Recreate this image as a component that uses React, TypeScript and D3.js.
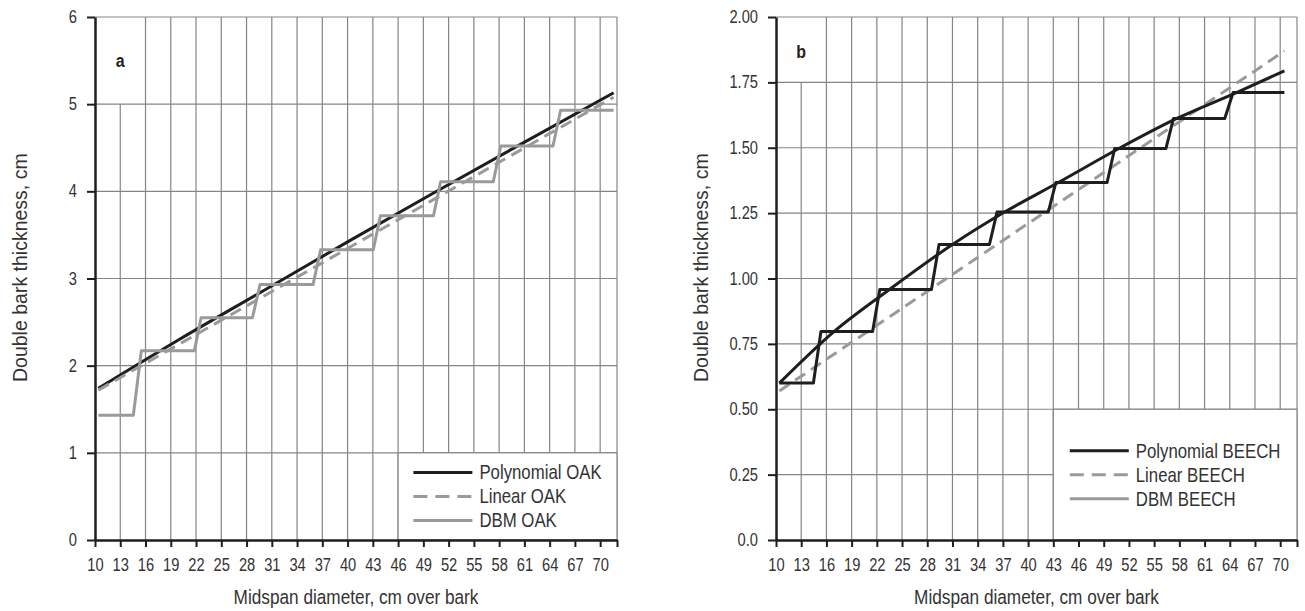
import React, { useEffect, useRef } from 'react';
import * as d3 from 'd3';

// tick labels
const xTicks = [10, 13, 16, 19, 22, 25, 28, 31, 34, 37, 40, 43, 46, 49, 52, 55, 58, 61, 64, 67, 70];
const oakYTicks = [0, 1, 2, 3, 4, 5, 6];
const oakYLabels = ['0', '1', '2', '3', '4', '5', '6'];
const beechYTicks = [0, 0.25, 0.5, 0.75, 1, 1.25, 1.5, 1.75, 2];
const beechYLabels = ['0.0', '0.25', '0.50', '0.75', '1.00', '1.25', '1.50', '1.75', '2.00'];

// panel a: OAK  [diameter, double bark thickness]
const oakPolynomial = [[10.4, 1.74], [20, 2.3], [30, 2.86], [40, 3.42], [50, 3.97], [60, 4.51], [71.6, 5.13]];
const oakLinear = [[10.4, 1.72], [71.6, 5.08]];
const oakDbm = [
  [10.4, 1.43], [14.55, 1.43], [15.5, 2.17], [21.8, 2.17], [22.6, 2.55], [28.7, 2.55],
  [29.6, 2.93], [35.9, 2.93], [36.8, 3.33], [43.05, 3.33], [43.9, 3.72], [50.2, 3.72],
  [51.05, 4.11], [57.3, 4.11], [58.2, 4.52], [64.4, 4.52], [65.3, 4.93], [71.6, 4.93]
];

// panel b: BEECH
const beechPolynomial = [
  [10.4, 0.6], [16.9, 0.797], [23.5, 0.958], [31, 1.13], [37.2, 1.254],
  [43.6, 1.367], [50.8, 1.497], [57.7, 1.612], [64.8, 1.711], [70.5, 1.794]
];
const beechLinear = [[10.4, 0.57], [70.5, 1.87]];
const beechDbm = [
  [10.4, 0.6], [14.45, 0.6], [15.35, 0.797], [21.5, 0.797], [22.35, 0.958], [28.5, 0.958],
  [29.4, 1.13], [35.4, 1.13], [36.3, 1.254], [42.4, 1.254], [43.3, 1.367], [49.4, 1.367],
  [50.3, 1.497], [56.4, 1.497], [57.3, 1.612], [63.4, 1.612], [64.4, 1.711], [70.5, 1.711]
];

const FONT = '"Liberation Sans", Arial, sans-serif';
const K = 0.84; // the original type is a narrow grotesque
const DARK = '#1e1e1e';
const GREY = '#9a9a9a';
const GRID = '#858585';
const INK = '#333';

// squeeze an already positioned text horizontally around its own x
const narrow = sel => sel.each(function () {
  const t = d3.select(this);
  const x0 = +(t.attr('x') || 0);
  t.attr('x', x0 / K).attr('transform', `scale(${K},1)`);
});

const drawPanel = (svg, p) => {
  const x = d3.scaleLinear().domain([10, 72]).range([p.left, p.right]);
  const y = d3.scaleLinear().domain([0, p.yMax]).range([p.bottom, p.top]);
  const g = svg.append('g');

  // grid
  g.selectAll('.hgrid')
    .data(p.yTicks.filter(v => v > 0))
    .join('line')
    .attr('x1', x(10)).attr('x2', x(72))
    .attr('y1', d => y(d)).attr('y2', d => y(d))
    .attr('stroke', GRID).attr('stroke-width', 1.2);

  g.selectAll('.vgrid')
    .data([...xTicks.slice(1), 72])
    .join('line')
    .attr('x1', d => x(d)).attr('x2', d => x(d))
    .attr('y1', y(0))
    .attr('y2', d => (d === 13 ? y(p.labelCut) : y(p.yMax)))
    .attr('stroke', GRID).attr('stroke-width', 1.2);

  // legend box
  const bx0 = x(p.legendX), bx1 = x(72), by0 = y(p.legendY), by1 = y(0);
  g.append('rect')
    .attr('x', bx0).attr('y', by0)
    .attr('width', bx1 - bx0).attr('height', by1 - by0)
    .attr('fill', '#fff').attr('stroke', GRID).attr('stroke-width', 1.2);

  // lines
  p.series.forEach(s => {
    const line = d3.line()
      .x(d => x(d[0]))
      .y(d => y(d[1]))
      .curve(s.smooth ? d3.curveMonotoneX : d3.curveLinear);
    g.append('path')
      .datum(s.data)
      .attr('d', line)
      .attr('fill', 'none')
      .attr('stroke', s.color)
      .attr('stroke-width', 3)
      .attr('stroke-linejoin', 'round')
      .attr('stroke-dasharray', s.dash || null);
  });

  // axes
  const yAxis = d3.axisLeft(y)
    .tickValues(p.yTicks)
    .tickSize(8).tickSizeOuter(0).tickPadding(10)
    .tickFormat((d, i) => p.yLabels[i]);
  const ya = g.append('g').attr('transform', `translate(${p.left},0)`).call(yAxis);

  const xAxis = d3.axisBottom(x)
    .tickValues([...xTicks, 72])
    .tickSize(7).tickSizeOuter(0).tickPadding(12)
    .tickFormat(d => (d === 72 ? '' : d));
  const xa = g.append('g').attr('transform', `translate(0,${p.bottom})`).call(xAxis);

  [ya, xa].forEach(a => {
    a.select('.domain').attr('stroke', DARK).attr('stroke-width', 2.5);
    a.selectAll('.tick line').attr('stroke', DARK).attr('stroke-width', 2);
    a.selectAll('.tick text')
      .attr('fill', INK)
      .style('font-family', FONT)
      .style('font-size', '17.5px')
      .call(narrow);
  });

  // titles
  g.append('g')
    .attr('transform', `translate(${(p.left + p.right) / 2},${p.bottom + 64})`)
    .append('text')
    .attr('text-anchor', 'middle')
    .attr('fill', INK)
    .style('font-family', FONT).style('font-size', '20.5px')
    .text('Midspan diameter, cm over bark')
    .call(narrow);

  g.append('text')
    .attr('transform', `translate(${p.left - 68},${p.bottom - 158}) rotate(-90)`)
    .attr('text-anchor', 'start')
    .attr('fill', INK)
    .style('font-family', FONT).style('font-size', '19.5px')
    .text('Double bark thickness, cm');

  g.append('g')
    .attr('transform', `translate(${x(13)},${p.top + p.labelY})`)
    .append('text')
    .attr('text-anchor', 'middle')
    .attr('fill', '#222')
    .style('font-family', FONT).style('font-size', '19px').style('font-weight', 'bold')
    .text(p.label)
    .call(narrow);

  // legend entries
  const rowsMid = (by0 + by1) / 2;
  const lg = g.append('g');
  const texts = p.legend.map((s, i) =>
    lg.append('text')
      .attr('y', rowsMid + (i - 1) * 24)
      .attr('dy', '0.35em')
      .attr('fill', INK)
      .style('font-family', FONT).style('font-size', '20px')
      .text(s.name)
  );
  const maxW = d3.max(texts, t => t.node().getComputedTextLength()) * K;
  const startX = (bx0 + bx1) / 2 - (59 + 7 + maxW) / 2;
  p.legend.forEach((s, i) => {
    const ry = rowsMid + (i - 1) * 24;
    lg.append('line')
      .attr('x1', startX).attr('x2', startX + 59)
      .attr('y1', ry).attr('y2', ry)
      .attr('stroke', s.color).attr('stroke-width', 3)
      .attr('stroke-dasharray', s.dash || null);
    texts[i].attr('x', startX + 66).call(narrow);
  });
};

const App = () => {
  const svgRef = useRef(null);

  useEffect(() => {
    if (!svgRef.current) return;
    const svg = d3.select(svgRef.current);
    svg.selectAll('*').remove();

    const panels = [
      {
        left: 95, right: 617, top: 17, bottom: 540, yMax: 6,
        yTicks: oakYTicks, yLabels: oakYLabels,
        label: 'a', labelY: 50, labelCut: 5, legendX: 46, legendY: 1,
        series: [
          { data: oakPolynomial, color: DARK, smooth: true },
          { data: oakDbm, color: GREY },
          { data: oakLinear, color: GREY, dash: '12,7' }
        ],
        legend: [
          { name: 'Polynomial OAK', color: DARK },
          { name: 'Linear OAK', color: GREY, dash: '14,8' },
          { name: 'DBM OAK', color: GREY }
        ]
      },
      {
        left: 776, right: 1297, top: 17, bottom: 540, yMax: 2,
        yTicks: beechYTicks, yLabels: beechYLabels,
        label: 'b', labelY: 41, labelCut: 1.75, legendX: 43, legendY: 0.5,
        series: [
          { data: beechLinear, color: GREY, dash: '12,7' },
          { data: beechDbm, color: DARK },
          { data: beechPolynomial, color: DARK, smooth: true }
        ],
        legend: [
          { name: 'Polynomial BEECH', color: DARK },
          { name: 'Linear BEECH', color: GREY, dash: '14,8' },
          { name: 'DBM BEECH', color: GREY }
        ]
      }
    ];

    panels.forEach(p => drawPanel(svg, p));
  }, []);

  return (
    <svg
      ref={svgRef}
      width={1305}
      height={611}
      style={{ position: 'absolute', left: 0, top: 0, background: '#fff' }}
    />
  );
};

export default App;
